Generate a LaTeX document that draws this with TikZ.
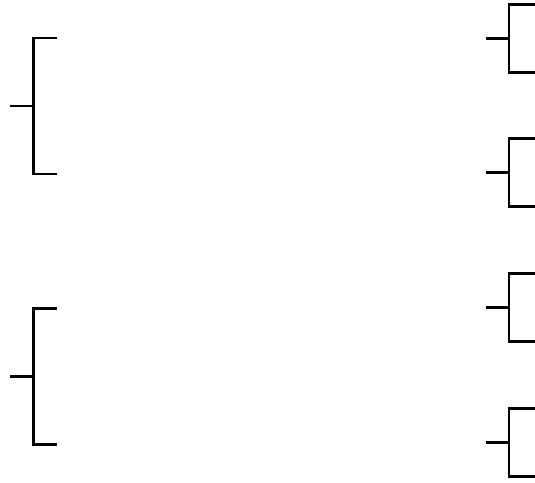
\documentclass[tikz,border=0pt]{standalone}
\begin{document}
\begin{tikzpicture}[x=1pt,y=-1pt,brk/.style={line width=2.4pt,line cap=butt,line join=miter}]
\useasboundingbox (0,0) rectangle (535,482);
% left brackets
\foreach \yc/\h in {106/68, 376.5/68}{
  \draw[brk] (57,\yc-\h) -- (33.5,\yc-\h) -- (33.5,\yc+\h) -- (57,\yc+\h);
  \draw[brk] (10,\yc) -- (33.5,\yc);
}
% right brackets
\foreach \yc in {38.5, 172.5, 307.5, 442.5}{
  \draw[brk] (535,\yc-34) -- (509,\yc-34) -- (509,\yc+34) -- (535,\yc+34);
  \draw[brk] (486,\yc) -- (509,\yc);
}
\end{tikzpicture}
\end{document}
